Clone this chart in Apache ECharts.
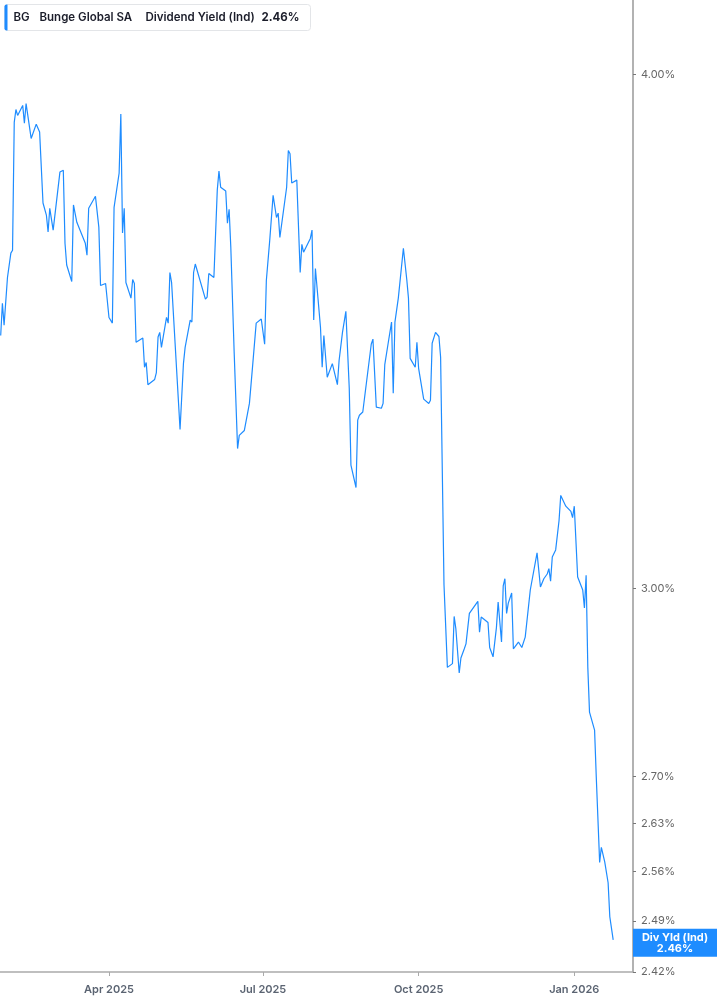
<!DOCTYPE html>
<html><head><meta charset="utf-8">
<script src="https://cdn.jsdelivr.net/npm/echarts@6/dist/echarts.min.js"></script>
<style>html,body{margin:0;padding:0;background:#fff}#c{width:717px;height:1005px}</style>
</head><body><div id="c"></div>
<script>
const dates = [
'2025-01-27','2025-01-28','2025-01-29','2025-01-31','2025-02-02','2025-02-03','2025-02-04','2025-02-05','2025-02-06','2025-02-09',
'2025-02-10','2025-02-11','2025-02-14','2025-02-17','2025-02-19','2025-02-21','2025-02-23','2025-02-24','2025-02-25','2025-02-26',
'2025-02-27','2025-03-03','2025-03-04','2025-03-05','2025-03-06','2025-03-07','2025-03-10','2025-03-11','2025-03-13','2025-03-18',
'2025-03-19','2025-03-20','2025-03-24','2025-03-26','2025-03-27','2025-03-30','2025-04-01','2025-04-03','2025-04-04','2025-04-07',
'2025-04-08','2025-04-09','2025-04-10','2025-04-11','2025-04-14','2025-04-15','2025-04-16','2025-04-17','2025-04-21','2025-04-22',
'2025-04-23','2025-04-24','2025-04-28','2025-04-29','2025-04-30','2025-05-01','2025-05-02','2025-05-05','2025-05-06','2025-05-07',
'2025-05-08','2025-05-13','2025-05-15','2025-05-16','2025-05-19','2025-05-20','2025-05-21','2025-05-22','2025-05-28','2025-05-29',
'2025-05-30','2025-06-02','2025-06-04','2025-06-05','2025-06-06','2025-06-09','2025-06-10','2025-06-11','2025-06-12','2025-06-14',
'2025-06-16','2025-06-17','2025-06-20','2025-06-23','2025-06-25','2025-06-26','2025-06-27','2025-06-30','2025-07-01','2025-07-02',
'2025-07-03','2025-07-05','2025-07-07','2025-07-09','2025-07-10','2025-07-11','2025-07-12','2025-07-15','2025-07-16','2025-07-17',
'2025-07-18','2025-07-21','2025-07-22','2025-07-23','2025-07-24','2025-07-25','2025-07-29','2025-07-30','2025-07-31','2025-08-01',
'2025-08-04','2025-08-05','2025-08-06','2025-08-08','2025-08-09','2025-08-11','2025-08-14','2025-08-15','2025-08-17','2025-08-19',
'2025-08-21','2025-08-22','2025-08-25','2025-08-26','2025-08-27','2025-08-29','2025-09-03','2025-09-04','2025-09-06','2025-09-09',
'2025-09-10','2025-09-11','2025-09-13','2025-09-15','2025-09-16','2025-09-17','2025-09-19','2025-09-22','2025-09-24','2025-09-25',
'2025-09-26','2025-09-29','2025-09-30','2025-10-01','2025-10-04','2025-10-07','2025-10-08','2025-10-09','2025-10-11','2025-10-13',
'2025-10-14','2025-10-16','2025-10-18','2025-10-21','2025-10-22','2025-10-23','2025-10-25','2025-10-26','2025-10-28','2025-10-29',
'2025-10-31','2025-11-05','2025-11-06','2025-11-07','2025-11-08','2025-11-11','2025-11-12','2025-11-13','2025-11-14','2025-11-16',
'2025-11-17','2025-11-19','2025-11-20','2025-11-21','2025-11-22','2025-11-23','2025-11-25','2025-11-26','2025-11-27','2025-11-29',
'2025-12-01','2025-12-03','2025-12-06','2025-12-10','2025-12-11','2025-12-12','2025-12-14','2025-12-16','2025-12-17','2025-12-18',
'2025-12-19','2025-12-21','2025-12-23','2025-12-24','2025-12-27','2025-12-30','2025-12-31','2026-01-01','2026-01-03','2026-01-06',
'2026-01-07','2026-01-08','2026-01-09','2026-01-10','2026-01-13','2026-01-14','2026-01-16','2026-01-17','2026-01-19','2026-01-21',
'2026-01-22','2026-01-24'
];
const values = [
3.456,3.519,3.476,3.570,3.619,3.625,3.894,3.922,3.909,3.931,
3.892,3.935,3.859,3.890,3.873,3.722,3.697,3.662,3.711,3.711,
3.666,3.787,3.791,3.791,3.639,3.595,3.562,3.718,3.682,3.639,
3.615,3.711,3.736,3.672,3.554,3.558,3.491,3.480,3.713,3.785,
3.912,3.660,3.711,3.560,3.529,3.566,3.558,3.443,3.451,3.395,
3.404,3.362,3.372,3.385,3.453,3.462,3.433,3.491,3.480,3.580,
3.560,3.279,3.402,3.433,3.486,3.482,3.580,3.597,3.527,3.531,
3.578,3.570,3.749,3.789,3.755,3.747,3.680,3.709,3.631,3.422,
3.244,3.268,3.277,3.327,3.402,3.402,3.480,3.488,3.486,3.439,
3.564,3.645,3.738,3.692,3.701,3.651,3.647,3.755,3.833,3.826,
3.764,3.770,3.768,3.580,3.637,3.621,3.649,3.666,3.486,3.588,
3.472,3.395,3.456,3.376,3.374,3.402,3.362,3.408,3.462,3.503,
3.356,3.214,3.174,3.296,3.305,3.311,3.439,3.449,3.320,3.318,
3.327,3.400,3.441,3.482,3.346,3.482,3.529,3.629,3.566,3.529,
3.412,3.395,3.443,3.393,3.335,3.327,3.333,3.441,3.462,3.454,
3.414,3.006,2.870,2.876,2.953,2.933,2.861,2.885,2.900,2.908,
2.958,2.978,2.927,2.952,2.955,2.943,2.902,2.903,2.887,2.935,
2.977,2.911,3.004,3.016,2.958,2.975,2.992,2.900,2.902,2.911,
2.902,2.919,2.997,3.060,3.060,3.002,3.016,3.024,3.033,3.012,
3.053,3.065,3.116,3.160,3.141,3.132,3.121,3.141,3.019,2.997,
2.967,3.022,2.870,2.799,2.771,2.699,2.573,2.595,2.574,2.544,
2.496,2.464
];
const yTickValues = [2.42, 2.49, 2.56, 2.63, 2.70, 3.00, 4.00];
const xTickDates = ['2025-04-01', '2025-07-01', '2025-10-01', '2026-01-01'];
const xTickLabels = ['Apr 2025', 'Jul 2025', 'Oct 2025', 'Jan 2026'];
const ticker = 'BG';
const company = 'Bunge Global SA';
const metric = 'Dividend Yield (Ind)';
const lastLabelName = 'Div Yld (Ind)';
const xMin = '2025-01-26 14:00:00';
const xMax = '2026-02-04 17:00:00';
const yMin = 2.42;
const yMax = 4.17;

function toTs(s) {
  const m = s.split(/[- :]/).map(Number);
  return new Date(m[0], m[1] - 1, m[2], m[3] || 0, m[4] || 0, m[5] || 0).getTime();
}
const xTickTs = xTickDates.map(toTs);
const lastVal = values[values.length - 1];
const BLUE = '#1e8cff';
const FONT = 'Inter, "Noto Sans", sans-serif';

const chart = echarts.init(document.getElementById('c'), null, { renderer: 'canvas' });
chart.setOption({
  animation: false,
  backgroundColor: '#fff',
  grid: { left: 0, right: 84, top: 0, bottom: 33, containLabel: false },
  xAxis: {
    type: 'value',
    min: toTs(xMin), max: toTs(xMax),
    axisLine: { show: true, lineStyle: { color: '#aaaaaa', width: 1.5 } },
    axisTick: { show: true, customValues: xTickTs, length: 4, lineStyle: { color: '#aaaaaa' } },
    axisLabel: {
      customValues: xTickTs,
      formatter: function (v) { const i = xTickTs.indexOf(v); return i >= 0 ? xTickLabels[i] : ''; },
      color: '#5b6472', fontSize: 11, fontWeight: 600, fontFamily: FONT, margin: 12
    },
    splitLine: { show: false }
  },
  yAxis: {
    type: 'log', logBase: 10,
    position: 'right',
    min: yMin, max: yMax,
    axisLine: { show: true, lineStyle: { color: '#999999', width: 1.5 } },
    axisTick: { show: true, customValues: yTickValues, length: 3, lineStyle: { color: '#777' } },
    axisLabel: {
      customValues: yTickValues,
      formatter: function (v) { return Number(v).toFixed(2) + '%'; },
      color: '#666666', fontSize: 11, fontFamily: FONT, margin: 8
    },
    splitLine: { show: false },
    minorTick: { show: false }
  },
  series: [{
    type: 'line',
    data: dates.map((d, i) => [toTs(d), values[i]]),
    showSymbol: false,
    symbol: 'none',
    lineStyle: { color: BLUE, width: 1.2 },
    itemStyle: { color: BLUE },
    clip: false,
    markLine: {
      silent: true,
      animation: false,
      symbol: ['none', 'none'],
      lineStyle: { color: 'rgba(0,0,0,0)', width: 0 },
      data: [{ yAxis: lastVal }],
      label: {
        show: true, position: 'end', distance: 0,
        formatter: function () { return '{a|' + lastLabelName + '}\n{a|' + lastVal.toFixed(2) + '%}'; },
        backgroundColor: BLUE, padding: [3, 9, 3, 9], borderRadius: 0,
        rich: { a: { width: 66, align: 'center', lineHeight: 11, fontSize: 11, fontWeight: 'bold', color: '#fff', fontFamily: FONT } }
      }
    }
  }],
  graphic: [{
    type: 'group', left: 4, top: 4,
    children: [
      { type: 'rect', shape: { x: 0, y: 0, width: 306, height: 26, r: 3 }, style: { fill: '#fff', stroke: '#e3e5e8', lineWidth: 1 } },
      { type: 'rect', shape: { x: 0, y: 0, width: 3, height: 26, r: [2, 0, 0, 2] }, style: { fill: BLUE } },
      { type: 'text', x: 9, y: 13, style: { text: ticker, fill: '#1b1d2a', font: '600 11.5px ' + FONT, verticalAlign: 'middle' } },
      { type: 'text', x: 35, y: 13, style: { text: company, fill: '#1b1d2a', font: '600 11.5px ' + FONT, verticalAlign: 'middle' } },
      { type: 'text', x: 141, y: 13, style: { text: metric, fill: '#1b1d2a', font: '600 11.5px ' + FONT, verticalAlign: 'middle' } },
      { type: 'text', x: 257, y: 13, style: { text: lastVal.toFixed(2) + '%', fill: '#1b1d2a', font: '700 11.5px ' + FONT, verticalAlign: 'middle' } }
    ]
  }]
});
</script></body></html>
